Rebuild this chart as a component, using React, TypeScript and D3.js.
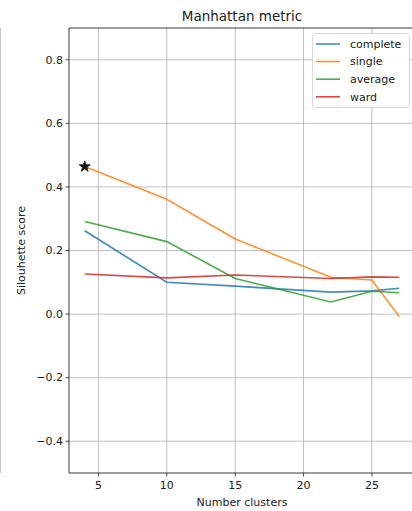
import React from "react";
import * as d3 from "d3";

const clusters = [4, 10, 15, 22, 25, 27];
const completeVals = [0.262, 0.1, 0.088, 0.069, 0.073, 0.081];
const singleVals = [0.464, 0.361, 0.236, 0.116, 0.107, -0.008];
const averageVals = [0.291, 0.228, 0.112, 0.038, 0.072, 0.067];
const wardVals = [0.126, 0.114, 0.123, 0.112, 0.117, 0.116];
const seriesNames = ["complete", "single", "average", "ward"];
const seriesColors = ["#1f77b4", "#ff7f0e", "#2ca02c", "#d62728"];
const xTicks = [5, 10, 15, 20, 25];
const yTicks = [-0.4, -0.2, 0, 0.2, 0.4, 0.6, 0.8];
const bestPoint = { x: 4, y: 0.464 };

export default function App() {
  const W = 412, H = 511;
  const left = 69, right = 415, top = 28, bottom = 473;
  const x = d3.scaleLinear().domain([2.85, 28.15]).range([left, right]);
  const y = d3.scaleLinear().domain([-0.5, 0.9]).range([bottom, top]);
  const allVals = [completeVals, singleVals, averageVals, wardVals];
  const line = d3
    .line<number>()
    .x((_, i) => x(clusters[i]))
    .y((d) => y(d));
  const fmt = (v: number) => {
    const s = Math.abs(v).toFixed(1);
    return v < -1e-9 ? "\u2212" + s : s;
  };
  const star = d3.symbol().type(d3.symbolStar).size(38)();
  const font = "DejaVu Sans, sans-serif";
  return (
    <svg
      width={W}
      height={H}
      style={{ position: "absolute", left: 0, top: 0, background: "#fff" }}
      fontFamily={font}
    >
      <rect x={0} y={0} width={W} height={H} fill="#fff" />
      <line x1={0.5} x2={0.5} y1={top} y2={bottom} stroke="#c8c8c8" strokeWidth={1} />
      <defs>
        <clipPath id="plot">
          <rect x={left} y={top} width={right - left} height={bottom - top} />
        </clipPath>
      </defs>
      {xTicks.map((t) => (
        <line key={"gx" + t} x1={x(t)} x2={x(t)} y1={top} y2={bottom} stroke="#b0b0b0" strokeWidth={0.8} />
      ))}
      {yTicks.map((t) => (
        <line key={"gy" + t} x1={left} x2={right} y1={y(t)} y2={y(t)} stroke="#b0b0b0" strokeWidth={0.8} />
      ))}
      <g clipPath="url(#plot)">
        {allVals.map((vals, i) => (
          <path key={seriesNames[i]} d={line(vals) || ""} fill="none" stroke={seriesColors[i]} strokeWidth={1.6} strokeOpacity={0.85} />
        ))}
        <path d={star || ""} transform={`translate(${x(bestPoint.x)},${y(bestPoint.y)})`} fill="#111" stroke="#111" strokeWidth={0.8} />
      </g>
      <line x1={left} x2={left} y1={top} y2={bottom} stroke="#222" strokeWidth={0.9} />
      <line x1={left} x2={right} y1={bottom} y2={bottom} stroke="#222" strokeWidth={0.9} />
      <line x1={left} x2={right} y1={top} y2={top} stroke="#222" strokeWidth={0.9} />
      {xTicks.map((t) => (
        <g key={"xt" + t}>
          <line x1={x(t)} x2={x(t)} y1={bottom} y2={bottom + 3.5} stroke="#222" strokeWidth={0.8} />
          <text x={x(t)} y={bottom + 16} textAnchor="middle" fontSize={11} fill="#222">
            {t}
          </text>
        </g>
      ))}
      {yTicks.map((t) => (
        <g key={"yt" + t}>
          <line x1={left - 3.5} x2={left} y1={y(t)} y2={y(t)} stroke="#222" strokeWidth={0.8} />
          <text x={left - 6} y={y(t)} dy="0.35em" textAnchor="end" fontSize={11} fill="#222">
            {fmt(t)}
          </text>
        </g>
      ))}
      <text x={(left + right) / 2} y={21} textAnchor="middle" fontSize={13.5} fill="#222">
        Manhattan metric
      </text>
      <text x={(left + right) / 2} y={506} textAnchor="middle" fontSize={11} fill="#222">
        Number clusters
      </text>
      <text transform={`translate(25,${(top + bottom) / 2}) rotate(-90)`} textAnchor="middle" fontSize={11} fill="#222">
        Silouhette score
      </text>
      <rect x={312.5} y={33.5} width={97} height={74} rx={2} fill="#fff" fillOpacity={0.85} stroke="#d0d0d0" strokeWidth={0.8} />
      {seriesNames.map((n, i) => (
        <g key={"lg" + n}>
          <line x1={316} x2={340} y1={44 + i * 17.6} y2={44 + i * 17.6} stroke={seriesColors[i]} strokeWidth={1.6} strokeOpacity={0.85} />
          <text x={350} y={44 + i * 17.6} dy="0.35em" fontSize={11} fill="#222">
            {n}
          </text>
        </g>
      ))}
    </svg>
  );
}
